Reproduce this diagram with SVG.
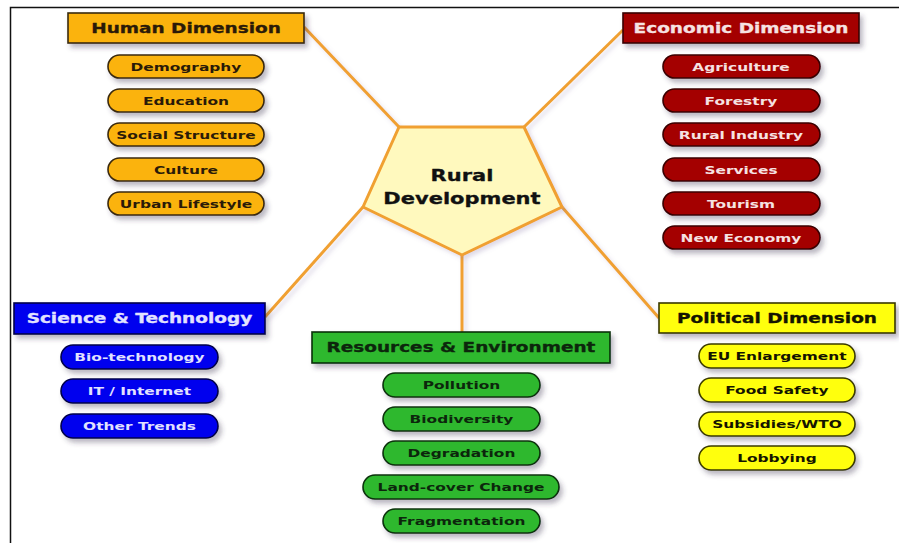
<svg xmlns="http://www.w3.org/2000/svg" width="899" height="543" viewBox="0 0 899 543">
  <defs>
    <filter id="shadow" x="-20%" y="-30%" width="150%" height="180%">
      <feDropShadow dx="3" dy="4" stdDeviation="2.5" flood-color="#3a3050" flood-opacity="0.35"/>
    </filter>
    <filter id="lineShadow" x="-20%" y="-20%" width="140%" height="140%">
      <feDropShadow dx="3" dy="3" stdDeviation="2" flood-color="#8070a0" flood-opacity="0.25"/>
    </filter>
  </defs>
  <style>
    text { font-family: "DejaVu Sans", Verdana, sans-serif; font-weight: bold; text-anchor: middle;
           stroke-linejoin: round;
           transform-box: fill-box; transform-origin: center; transform: scaleX(1.4); }
    .head { font-size: 13.2px; stroke-width: 0.3px; }
    .pill { font-size: 11px; stroke-width: 0; }
    .core { font-size: 15px; fill: #111; stroke: #111; stroke-width: 0.3px; }
    .box { stroke-width: 1.6; filter: url(#shadow); }
    .conn line { stroke: #F0A030; stroke-width: 3; }
    .human rect { fill: #FBB30A; stroke: #3a2a10; }
    .human text { fill: #2a1a08; stroke: #2a1a08; }
    .econ rect { fill: #A40006; stroke: #3a0000; }
    .econ text { fill: #F6E2E2; stroke: #F6E2E2; }
    .sci rect { fill: #0404EE; stroke: #00004a; }
    .sci text { fill: #E2E2FF; stroke: #E2E2FF; }
    .res rect { fill: #2DB82D; stroke: #0a300a; }
    .res text { fill: #0c260c; stroke: #0c260c; }
    .pol rect { fill: #FFFF0A; stroke: #3a3a00; }
    .pol text { fill: #141400; stroke: #141400; }
  </style>

  <rect width="899" height="543" fill="#ffffff"/>
  <!-- frame -->
  <path d="M10.5,543 V7.5 H899" fill="none" stroke="#111" stroke-width="1.5"/>

  <!-- connectors from the centre pentagon to each dimension -->
  <g id="connectors" class="conn" filter="url(#lineShadow)">
    <line x1="304" y1="27" x2="399" y2="127"/>
    <line x1="623" y1="30" x2="524" y2="127"/>
    <line x1="265" y1="317" x2="363" y2="207"/>
    <line x1="462" y1="255" x2="462" y2="332"/>
    <line x1="659" y1="318" x2="562" y2="207"/>
  </g>

  <!-- centre -->
  <g id="rural-development">
    <polygon points="399,127 524,127 562,207 462,255 363,207" fill="#FFF9BE" stroke="#F0A030" stroke-width="3" stroke-linejoin="round" filter="url(#lineShadow)"/>
    <text class="core" x="462" y="181">Rural</text>
    <text class="core" x="462" y="204">Development</text>
  </g>

  <!-- Human Dimension -->
  <g id="human" class="human">
    <rect class="box" x="68" y="13" width="236" height="30"/>
    <text class="head" x="186" y="33">Human Dimension</text>
    <g id="human-demography"><rect class="box" x="108" y="55" width="156" height="23" rx="11.5"/><text class="pill" x="186" y="71">Demography</text></g>
    <g id="human-education"><rect class="box" x="108" y="89" width="156" height="23" rx="11.5"/><text class="pill" x="186" y="105">Education</text></g>
    <g id="human-social"><rect class="box" x="108" y="123" width="156" height="23" rx="11.5"/><text class="pill" x="186" y="139">Social Structure</text></g>
    <g id="human-culture"><rect class="box" x="108" y="158" width="156" height="23" rx="11.5"/><text class="pill" x="186" y="174">Culture</text></g>
    <g id="human-urban"><rect class="box" x="108" y="192" width="156" height="23" rx="11.5"/><text class="pill" x="186" y="208">Urban Lifestyle</text></g>
  </g>

  <!-- Economic Dimension -->
  <g id="economic" class="econ">
    <rect class="box" x="623" y="13" width="236" height="30"/>
    <text class="head" x="741" y="33">Economic Dimension</text>
    <g id="econ-agriculture"><rect class="box" x="663" y="55" width="157" height="23" rx="11.5"/><text class="pill" x="741" y="71">Agriculture</text></g>
    <g id="econ-forestry"><rect class="box" x="663" y="89" width="157" height="23" rx="11.5"/><text class="pill" x="741" y="105">Forestry</text></g>
    <g id="econ-industry"><rect class="box" x="663" y="123" width="157" height="23" rx="11.5"/><text class="pill" x="741" y="139">Rural Industry</text></g>
    <g id="econ-services"><rect class="box" x="663" y="158" width="157" height="23" rx="11.5"/><text class="pill" x="741" y="174">Services</text></g>
    <g id="econ-tourism"><rect class="box" x="663" y="192" width="157" height="23" rx="11.5"/><text class="pill" x="741" y="208">Tourism</text></g>
    <g id="econ-new"><rect class="box" x="663" y="226" width="157" height="23" rx="11.5"/><text class="pill" x="741" y="242">New Economy</text></g>
  </g>

  <!-- Science & Technology -->
  <g id="science" class="sci">
    <rect class="box" x="14" y="303" width="251" height="31"/>
    <text class="head" x="139.5" y="323.5">Science &amp; Technology</text>
    <g id="sci-bio"><rect class="box" x="61" y="345" width="157" height="24" rx="12"/><text class="pill" x="139.5" y="361">Bio-technology</text></g>
    <g id="sci-it"><rect class="box" x="61" y="379" width="157" height="24" rx="12"/><text class="pill" x="139.5" y="395">IT / Internet</text></g>
    <g id="sci-other"><rect class="box" x="61" y="414" width="157" height="24" rx="12"/><text class="pill" x="139.5" y="430">Other Trends</text></g>
  </g>

  <!-- Resources & Environment -->
  <g id="resources" class="res">
    <rect class="box" x="312" y="332" width="298" height="31"/>
    <text class="head" x="461" y="352.5">Resources &amp; Environment</text>
    <g id="res-pollution"><rect class="box" x="383" y="373" width="157" height="24" rx="12"/><text class="pill" x="461.5" y="389">Pollution</text></g>
    <g id="res-biodiversity"><rect class="box" x="383" y="407" width="157" height="24" rx="12"/><text class="pill" x="461.5" y="423">Biodiversity</text></g>
    <g id="res-degradation"><rect class="box" x="383" y="441" width="157" height="24" rx="12"/><text class="pill" x="461.5" y="457">Degradation</text></g>
    <g id="res-landcover"><rect class="box" x="363" y="475" width="196" height="24" rx="12"/><text class="pill" x="461" y="491">Land-cover Change</text></g>
    <g id="res-fragmentation"><rect class="box" x="383" y="509" width="157" height="24" rx="12"/><text class="pill" x="461.5" y="525">Fragmentation</text></g>
  </g>

  <!-- Political Dimension -->
  <g id="political" class="pol">
    <rect class="box" x="659" y="303" width="236" height="30"/>
    <text class="head" x="777" y="323">Political Dimension</text>
    <g id="pol-eu"><rect class="box" x="699" y="344" width="156" height="24" rx="12"/><text class="pill" x="777" y="360">EU Enlargement</text></g>
    <g id="pol-food"><rect class="box" x="699" y="378" width="156" height="24" rx="12"/><text class="pill" x="777" y="394">Food Safety</text></g>
    <g id="pol-subsidies"><rect class="box" x="699" y="412" width="156" height="24" rx="12"/><text class="pill" x="777" y="428">Subsidies/WTO</text></g>
    <g id="pol-lobbying"><rect class="box" x="699" y="446" width="156" height="24" rx="12"/><text class="pill" x="777" y="462">Lobbying</text></g>
  </g>
</svg>
